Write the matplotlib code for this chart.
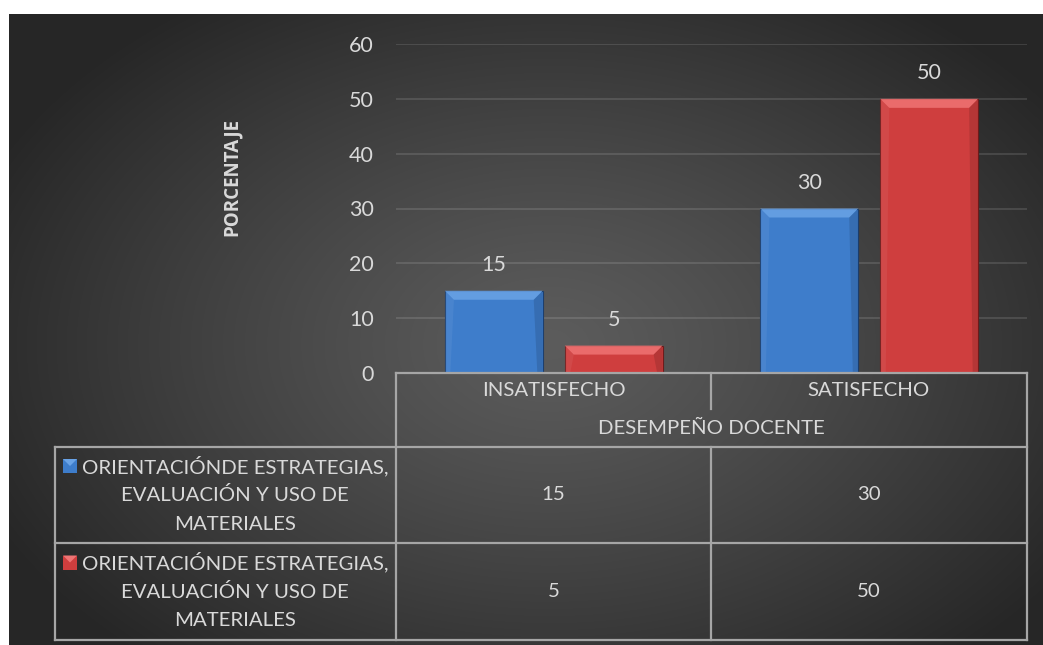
import numpy as np
import matplotlib
matplotlib.use("Agg")
import matplotlib.pyplot as plt
from matplotlib.patches import Polygon, Rectangle
from matplotlib.lines import Line2D

categorias = ["INSATISFECHO", "SATISFECHO"]
eje_x = "DESEMPEÑO DOCENTE"
eje_y = "PORCENTAJE"
series = ["ORIENTACIÓNDE ESTRATEGIAS,\nEVALUACIÓN Y USO DE\nMATERIALES",
          "ORIENTACIÓNDE ESTRATEGIAS,\nEVALUACIÓN Y USO DE\nMATERIALES"]
serie_azul = [15, 30]
serie_roja = [5, 50]
ticks_y = [0, 10, 20, 30, 40, 50, 60]

AZUL = "#3e7dcb"
AZUL_CLARO = "#6aa3e6"
AZUL_BORDE = "#1d3f6e"
ROJO = "#cf3e3e"
ROJO_CLARO = "#ef7474"
ROJO_BORDE = "#6e1c1c"
TEXTO = "#d9d9d9"
LINEA_TABLA = "#a6a6a6"

plt.rcParams["font.family"] = ["Lato", "DejaVu Sans"]

W, H = 1043, 645
fig = plt.figure(figsize=(W / 100, H / 100), dpi=100)
fig.patch.set_facecolor("white")

# fondo con degradado radial
fondo = fig.add_axes([9 / W, 0, 1 - 9 / W, 1 - 14 / H])
fondo.set_axis_off()
yy, xx = np.mgrid[0:631, 0:1034]
cx, cy = 540, 330
r = np.sqrt(((xx - cx) / 620.0) ** 2 + ((yy - cy) / 420.0) ** 2)
r = np.clip(r, 0, 1)
gris = (92 - 54 * r ** 1.2) / 255.0
img = np.dstack([gris, gris, gris])
fondo.imshow(img, aspect="auto", extent=[0, 1, 0, 1], interpolation="bilinear")

# area del grafico
ax = fig.add_axes([396 / W, 1 - 373 / H, (1027 - 396) / W, (373 - 44) / H])
ax.set_facecolor("none")
x = np.arange(len(categorias))
ancho = 0.31
desp = 0.19
barras_a = ax.bar(x - desp, serie_azul, ancho, color=AZUL, edgecolor=AZUL_BORDE, linewidth=0.8, zorder=3)
barras_r = ax.bar(x + desp, serie_roja, ancho, color=ROJO, edgecolor=ROJO_BORDE, linewidth=0.8, zorder=3)
ax.set_xlim(-0.5, 1.5)
ax.set_ylim(0, 60)
ax.set_yticks(ticks_y)
ax.set_yticklabels([str(t) for t in ticks_y], color=TEXTO, fontsize=15.5)
ax.tick_params(axis="y", length=0, pad=16)
ax.set_xticks([])
for s in ax.spines.values():
    s.set_visible(False)
ax.yaxis.grid(True, color="#ffffff", alpha=0.13, linewidth=1.3, zorder=0)
ax.set_axisbelow(True)

# bisel de las barras
bx = 9 / 315.5
by = 9 * 60 / 329.0
for barras, claro in [(barras_a, AZUL_CLARO), (barras_r, ROJO_CLARO)]:
    for b in barras:
        x0, w, h = b.get_x(), b.get_width(), b.get_height()
        ax.add_patch(Polygon([(x0, h), (x0 + w, h), (x0 + w - bx, h - by), (x0 + bx, h - by)],
                             closed=True, facecolor=claro, edgecolor="none", alpha=0.85, zorder=4))
        ax.add_patch(Polygon([(x0 + w, h), (x0 + w, 0), (x0 + w - bx * 0.6, 0), (x0 + w - bx, h - by)],
                             closed=True, facecolor="black", edgecolor="none", alpha=0.12, zorder=4))
        ax.add_patch(Polygon([(x0, h), (x0, 0), (x0 + bx * 0.6, 0), (x0 + bx, h - by)],
                             closed=True, facecolor="white", edgecolor="none", alpha=0.06, zorder=4))
        ax.annotate(str(int(h)), (x0 + w / 2, h), xytext=(0, 18.5), textcoords="offset points",
                    ha="center", va="center", color=TEXTO, fontsize=15.5)

fig.text(232 / W, 1 - 177 / H, eje_y, rotation=90, ha="center", va="center",
         color=TEXTO, fontsize=13.5, fontweight="bold", family=["Open Sans", "DejaVu Sans"])

# tabla de datos (coordenadas en pixeles)
tb = fig.add_axes([0, 0, 1, 1])
tb.set_xlim(0, W)
tb.set_ylim(H, 0)
tb.set_axis_off()
tb.patch.set_alpha(0)

def linea(xs, ys):
    tb.add_line(Line2D(xs, ys, color=LINEA_TABLA, linewidth=1.6))

izq, med, der = 396, 711, 1027
leg_izq = 55
y0, y1, y2, y3, y4 = 373, 409, 447, 543, 640
linea([izq, der], [y0, y0])
linea([izq, izq], [y0, y2])
linea([der, der], [y0, y4])
linea([med, med], [y0, y1])
linea([leg_izq, der], [y2, y2])
linea([leg_izq, der], [y3, y3])
linea([leg_izq, der], [y4, y4])
linea([leg_izq, leg_izq], [y2, y4])
linea([izq, izq], [y2, y4])
linea([med, med], [y2, y4])

FS = 14.7
centros = [(izq + med) / 2, (med + der) / 2]
for c, cat in zip(centros, categorias):
    tb.text(c, (y0 + y1) / 2, cat, ha="center", va="center", color=TEXTO, fontsize=FS)
tb.text((izq + der) / 2, (y1 + y2) / 2, eje_x, ha="center", va="center", color=TEXTO, fontsize=FS)

filas = [(y2, y3, serie_azul, AZUL, AZUL_CLARO, series[0]),
         (y3, y4, serie_roja, ROJO, ROJO_CLARO, series[1])]
for ya, yb, vals, col, claro, nombre in filas:
    ym = (ya + yb) / 2
    for c, v in zip(centros, vals):
        tb.text(c, ym, str(v), ha="center", va="center", color=TEXTO, fontsize=FS)
    lineas = nombre.split("\n")
    tb.add_patch(Rectangle((63, ym - 29 - 7), 14, 14, facecolor=col, edgecolor="none"))
    tb.add_patch(Polygon([(63, ym - 36), (77, ym - 36), (70, ym - 29)], closed=True,
                         facecolor=claro, edgecolor="none"))
    tb.text(82, ym - 29, lineas[0], ha="left", va="center", color=TEXTO, fontsize=FS)
    tb.text(235, ym, lineas[1], ha="center", va="center", color=TEXTO, fontsize=FS)
    tb.text(235, ym + 29, lineas[2], ha="center", va="center", color=TEXTO, fontsize=FS)

fig.savefig("out.png", dpi=100, facecolor=fig.get_facecolor())
